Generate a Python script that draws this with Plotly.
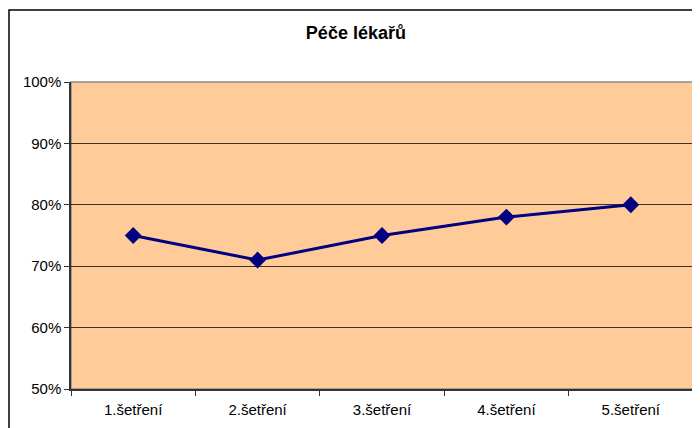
import plotly.graph_objects as go

categories = ['1.šetření', '2.šetření', '3.šetření', '4.šetření', '5.šetření']
values = [0.75, 0.71, 0.75, 0.78, 0.80]
y_ticks = [0.5, 0.6, 0.7, 0.8, 0.9, 1.0]
y_labels = ['50%', '60%', '70%', '80%', '90%', '100%']

fig = go.Figure()

fig.add_trace(go.Scatter(
    x=categories, y=values, mode='lines+markers', showlegend=False,
    line=dict(color='#000080', width=3),
    marker=dict(symbol='diamond', size=13, color='#000080'),
))

# gray plot-area frame (top / right)
fig.add_shape(type='rect', xref='paper', yref='paper', x0=0, x1=1, y0=0, y1=1,
              line=dict(color='#8c8c8c', width=1.5), layer='below')
# outer chart border
fig.add_shape(type='rect', xref='paper', yref='paper',
              x0=-62/622, x1=1.2, y0=-0.5, y1=1 + 72/307,
              line=dict(color='black', width=1.5))

fig.update_layout(
    width=700, height=428,
    margin=dict(l=63, r=15, t=74, b=47),
    paper_bgcolor='white',
    plot_bgcolor='#FFCC99',
    title=dict(text='<b>Péče lékařů</b>', x=0.497, xanchor='center', y=0.942, yanchor='middle',
               font=dict(family='Liberation Sans, Arial', size=18, color='black')),
    font=dict(family='Liberation Sans, Arial', size=15, color='black'),
    xaxis=dict(
        type='category', range=[-0.5, 4.5], tickson='boundaries',
        ticks='outside', ticklen=5, tickcolor='#333333',
        showline=True, linecolor='#333333', linewidth=1.5,
        showgrid=False, tickfont=dict(size=15), ticklabelstandoff=6,
    ),
    yaxis=dict(
        range=[0.5, 1.0], tickvals=y_ticks, ticktext=y_labels,
        ticks='outside', ticklen=5, tickcolor='#333333',
        showline=True, linecolor='#333333', linewidth=1.5,
        showgrid=True, gridcolor='#3a3320', gridwidth=1,
        zeroline=False, tickfont=dict(size=15),
    ),
)

fig.write_html('out.html')
